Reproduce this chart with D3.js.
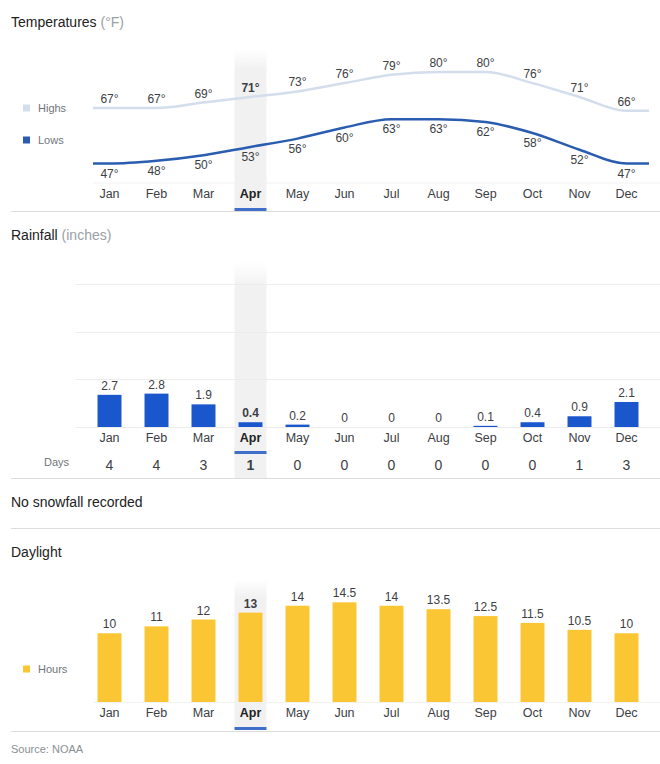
<!DOCTYPE html>
<html>
<head>
<meta charset="utf-8">
<script src="https://cdn.jsdelivr.net/npm/d3@7"></script>
<style>
  body { margin: 0; background: #fff; }
  svg { display: block; font-family: "Liberation Sans", Arial, sans-serif; }
</style>
</head>
<body>
<script>
// climate data
const months = ["Jan", "Feb", "Mar", "Apr", "May", "Jun", "Jul", "Aug", "Sep", "Oct", "Nov", "Dec"];
const highs = [67, 67, 69, 71, 73, 76, 79, 80, 80, 76, 71, 66];
const lows = [47, 48, 50, 53, 56, 60, 63, 63, 62, 58, 52, 47];
const rain = [2.7, 2.8, 1.9, 0.4, 0.2, 0, 0, 0, 0.1, 0.4, 0.9, 2.1];
const rainDays = [4, 4, 3, 1, 0, 0, 0, 0, 0, 0, 1, 3];
const daylight = [10, 11, 12, 13, 14, 14.5, 14, 13.5, 12.5, 11.5, 10.5, 10];
const rainTicks = [0, 4, 8, 12];
const current = "Apr";

let w = 660;
let h = 764;

let svg = d3.select("body")
    .append("svg")
    .attr("width", w)
    .attr("height", h);

let x = d3.scaleBand()
    .domain(months)
    .range([86, 650])
    .paddingInner(0.49)
    .paddingOuter(0.245);

let cx = function(m) { return x(m) + x.bandwidth() / 2; };
let isCur = function(m) { return m === current; };

let dark = "#222";
let text = "#3c4043";
let grey = "#70757a";

// fading grey column behind the current month
let defs = svg.append("defs");
let grad = defs.append("linearGradient")
    .attr("id", "fade")
    .attr("x1", 0).attr("y1", 0).attr("x2", 0).attr("y2", 1);
grad.append("stop").attr("offset", "0").attr("stop-color", "#f1f1f1").attr("stop-opacity", 0);
grad.append("stop").attr("offset", "0.12").attr("stop-color", "#f1f1f1").attr("stop-opacity", 1);
grad.append("stop").attr("offset", "1").attr("stop-color", "#f1f1f1").attr("stop-opacity", 1);

function highlight(y0, y1) {
    svg.append("rect")
        .attr("x", cx(current) - 16)
        .attr("y", y0)
        .attr("width", 32)
        .attr("height", y1 - y0)
        .attr("fill", "url(#fade)");
}

function underline(y) {
    svg.append("rect")
        .attr("x", cx(current) - 16)
        .attr("y", y)
        .attr("width", 32)
        .attr("height", 3)
        .attr("fill", "#3f6fc9");
}

function separator(y) {
    svg.append("line")
        .attr("x1", 11).attr("x2", w)
        .attr("y1", y).attr("y2", y)
        .attr("stroke", "#dcdcdc");
}

function title(y, main, unit) {
    let t = svg.append("text")
        .attr("x", 11)
        .attr("y", y)
        .attr("font-size", "14px")
        .attr("fill", dark)
        .text(main);
    if (unit) {
        t.append("tspan").attr("fill", "#9aa0a6").text(" " + unit);
    }
}

function monthLabels(y) {
    svg.append("g").selectAll("text")
        .data(months)
        .enter()
        .append("text")
        .attr("x", cx)
        .attr("y", y)
        .attr("text-anchor", "middle")
        .attr("font-size", "12.5px")
        .attr("font-weight", function(d) { return isCur(d) ? "bold" : "normal"; })
        .attr("fill", function(d) { return isCur(d) ? dark : text; })
        .text(function(d) { return d; });
}

function legend(y, label, color) {
    svg.append("rect")
        .attr("x", 23).attr("y", y - 3.5)
        .attr("width", 7).attr("height", 7)
        .attr("fill", color);
    svg.append("text")
        .attr("x", 38).attr("y", y + 4)
        .attr("font-size", "11px")
        .attr("fill", grey)
        .text(label);
}

// ---------- Temperatures ----------
title(27, "Temperatures", "(°F)");
highlight(50, 211);
underline(208);

let yT = d3.scaleLinear().domain([40, 80]).range([183, 72]);

svg.append("line")
    .attr("x1", 93).attr("x2", w)
    .attr("y1", 183).attr("y2", 183)
    .attr("stroke", "#f2f2f2");

let tempLine = d3.line()
    .x(function(d) { return d[0]; })
    .y(function(d) { return yT(d[1]); })
    .curve(d3.curveMonotoneX);

function tempPoints(vals) {
    let pts = months.map(function(m, i) { return [cx(m), vals[i]]; });
    pts.unshift([x.range()[0] + 7, vals[0]]);
    pts.push([x.range()[1] - 1, vals[vals.length - 1]]);
    return pts;
}

svg.append("path")
    .attr("d", tempLine(tempPoints(highs)))
    .attr("fill", "none")
    .attr("stroke", "#d3ddec")
    .attr("stroke-width", 2.5);

svg.append("path")
    .attr("d", tempLine(tempPoints(lows)))
    .attr("fill", "none")
    .attr("stroke", "#2a5db0")
    .attr("stroke-width", 2.5);

svg.append("g").selectAll("text")
    .data(highs)
    .enter()
    .append("text")
    .attr("x", function(d, i) { return cx(months[i]); })
    .attr("y", function(d) { return yT(d) - 5; })
    .attr("text-anchor", "middle")
    .attr("font-size", "12px")
    .attr("font-weight", function(d, i) { return isCur(months[i]) ? "bold" : "normal"; })
    .attr("fill", text)
    .text(function(d) { return d + "°"; });

svg.append("g").selectAll("text")
    .data(lows)
    .enter()
    .append("text")
    .attr("x", function(d, i) { return cx(months[i]); })
    .attr("y", function(d) { return yT(d) + 14; })
    .attr("text-anchor", "middle")
    .attr("font-size", "12px")
    .attr("fill", text)
    .text(function(d) { return d + "°"; });

legend(108, "Highs", "#d3ddec");
legend(140, "Lows", "#2a5db0");
monthLabels(198);
separator(211.5);

// ---------- Rainfall ----------
title(240, "Rainfall", "(inches)");
highlight(262, 478);
underline(451);

let yR = d3.scaleLinear().domain([0, 12]).range([427, 284]);

svg.append("g").selectAll("line")
    .data(rainTicks)
    .enter()
    .append("line")
    .attr("x1", 76).attr("x2", w)
    .attr("y1", function(d) { return Math.round(yR(d)) + 0.5; })
    .attr("y2", function(d) { return Math.round(yR(d)) + 0.5; })
    .attr("stroke", "#ececec");

svg.append("g").selectAll("rect")
    .data(rain)
    .enter()
    .append("rect")
    .attr("x", function(d, i) { return x(months[i]); })
    .attr("y", function(d) { return yR(d); })
    .attr("width", x.bandwidth())
    .attr("height", function(d) { return yR(0) - yR(d); })
    .attr("fill", "#1a56cc");

svg.append("g").selectAll("text")
    .data(rain)
    .enter()
    .append("text")
    .attr("x", function(d, i) { return cx(months[i]); })
    .attr("y", function(d) { return yR(d) - 5; })
    .attr("text-anchor", "middle")
    .attr("font-size", "12px")
    .attr("font-weight", function(d, i) { return isCur(months[i]) ? "bold" : "normal"; })
    .attr("fill", text)
    .text(function(d) { return d; });

monthLabels(442);

svg.append("text")
    .attr("x", 44).attr("y", 466)
    .attr("font-size", "11px")
    .attr("fill", grey)
    .text("Days");

svg.append("g").selectAll("text")
    .data(rainDays)
    .enter()
    .append("text")
    .attr("x", function(d, i) { return cx(months[i]); })
    .attr("y", 470)
    .attr("text-anchor", "middle")
    .attr("font-size", "14px")
    .attr("font-weight", function(d, i) { return isCur(months[i]) ? "bold" : "normal"; })
    .attr("fill", text)
    .text(function(d) { return d; });

separator(478.5);

// ---------- Snowfall ----------
svg.append("text")
    .attr("x", 11).attr("y", 507)
    .attr("font-size", "14px")
    .attr("fill", dark)
    .text("No snowfall recorded");

separator(528.5);

// ---------- Daylight ----------
title(557, "Daylight");
highlight(580, 728);
underline(727);

let yD = d3.scaleLinear().domain([0, 16]).range([702, 592]);

svg.append("line")
    .attr("x1", 93).attr("x2", w)
    .attr("y1", 702.5).attr("y2", 702.5)
    .attr("stroke", "#f2f2f2");

svg.append("g").selectAll("rect")
    .data(daylight)
    .enter()
    .append("rect")
    .attr("x", function(d, i) { return x(months[i]); })
    .attr("y", function(d) { return yD(d); })
    .attr("width", x.bandwidth())
    .attr("height", function(d) { return yD(0) - yD(d); })
    .attr("fill", "#fbc633");

svg.append("g").selectAll("text")
    .data(daylight)
    .enter()
    .append("text")
    .attr("x", function(d, i) { return cx(months[i]); })
    .attr("y", function(d) { return yD(d) - 5; })
    .attr("text-anchor", "middle")
    .attr("font-size", "12px")
    .attr("font-weight", function(d, i) { return isCur(months[i]) ? "bold" : "normal"; })
    .attr("fill", text)
    .text(function(d) { return d; });

legend(669, "Hours", "#fbc633");
monthLabels(717);
separator(731.5);

svg.append("text")
    .attr("x", 11).attr("y", 753)
    .attr("font-size", "11px")
    .attr("fill", "#8a8f94")
    .text("Source: NOAA");
</script>
</body>
</html>
